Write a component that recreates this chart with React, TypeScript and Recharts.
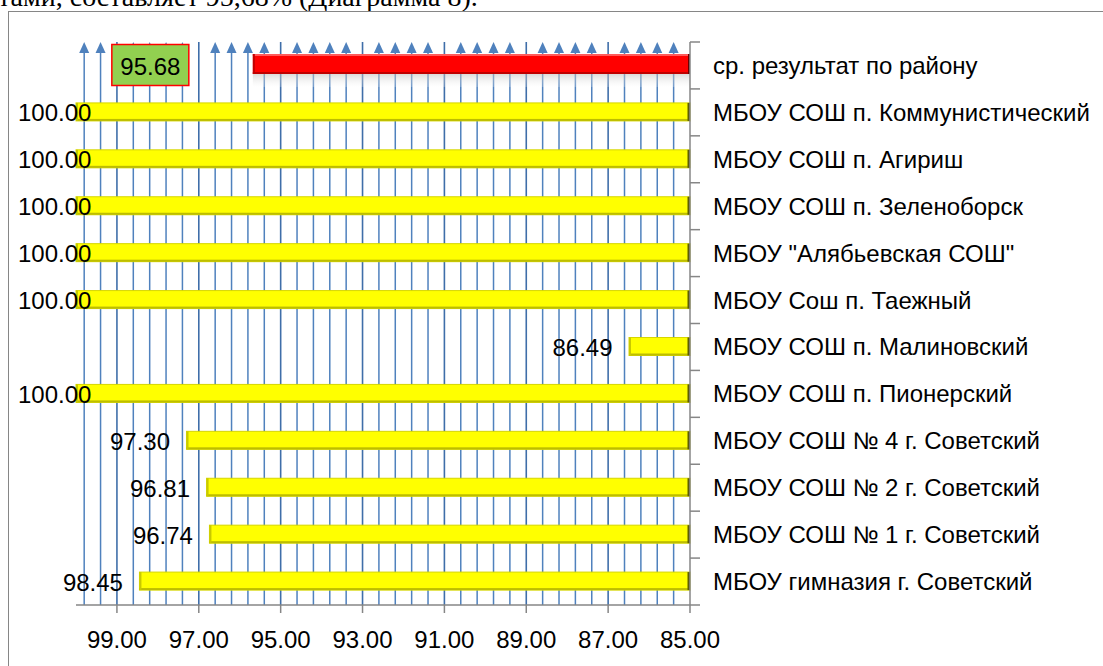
import React from 'react';
import { BarChart, Bar, XAxis, YAxis, CartesianGrid } from 'recharts';

const categories = [
  'ср. результат по району',
  'МБОУ СОШ п. Коммунистический',
  'МБОУ СОШ п. Агириш',
  'МБОУ СОШ п. Зеленоборск',
  'МБОУ "Алябьевская СОШ"',
  'МБОУ Сош п. Таежный',
  'МБОУ СОШ п. Малиновский',
  'МБОУ СОШ п. Пионерский',
  'МБОУ СОШ № 4 г. Советский',
  'МБОУ СОШ № 2 г. Советский',
  'МБОУ СОШ № 1 г. Советский',
  'МБОУ гимназия г. Советский',
];
const values = [95.68, 100, 100, 100, 100, 100, 86.49, 100, 97.3, 96.81, 96.74, 98.45];
const xTicks = [85, 87, 89, 91, 93, 95, 97, 99];
const gridValues = [
  85.4, 85.8, 86.2, 86.6, 87, 87.4, 87.8, 88.2, 88.6, 89, 89.4, 89.8, 90.2, 90.6, 91,
  91.4, 91.8, 92.2, 92.6, 93, 93.4, 93.8, 94.2, 94.6, 95, 95.4, 95.8, 96.2, 96.6, 97,
  97.4, 97.8, 98.2, 98.6, 99, 99.4, 99.8,
];
const majorValues = [87, 89, 91, 93, 95, 97, 99];

const data = categories.map((name, i) => ({ name, value: values[i] }));

const FONT = '"Liberation Sans", Arial, sans-serif';
const GRID_BLUE = '#4F81BD';
const AXIS_GRAY = '#868686';

// recharts 3 may hand over either a d3 scale function or a wrapper with .map()
const toPixel = (scale: any, v: number) => {
  if (typeof scale === 'function') return scale(v);
  if (scale && typeof scale.map === 'function') return scale.map(v);
  if (scale && typeof scale.apply === 'function') return scale.apply(v);
  return NaN;
};

const GridLine = (props: any) => {
  const { x1, y1, y2, index } = props;
  const v = gridValues[index];
  const major = majorValues.includes(v);
  const top = Math.min(y1, y2);
  const bottom = Math.max(y1, y2);
  if (major) {
    return (
      <line key={`g-${index}`} x1={x1} x2={x1} y1={top} y2={bottom} stroke="#3F6EA9" strokeWidth={1.6} />
    );
  }
  return (
    <g key={`g-${index}`}>
      <line x1={x1} x2={x1} y1={top + 8} y2={bottom} stroke={GRID_BLUE} strokeWidth={1.5} />
      <polygon points={`${x1},${top} ${x1 - 5},${top + 11} ${x1 + 5},${top + 11}`} fill={GRID_BLUE} />
    </g>
  );
};

const BarShape = (props: any) => {
  const { x, y, width, height, index, payload } = props;
  const left = Math.min(x, x + width);
  const w = Math.abs(width);
  const cy = y + height / 2;
  if (index === 0) {
    const h = 20;
    const top = cy - h / 2 - 1;
    const boxW = 77;
    const boxH = 41;
    const boxRight = left - 64;
    return (
      <g>
        <rect x={left} y={top + h} width={w} height={13} fill="url(#redShadow)" />
        <rect x={left} y={top} width={w} height={h} fill="#FF0000" />
        <rect x={left} y={top} width={w} height={2} fill="#FF5A5A" />
        <rect x={left} y={top + h - 2} width={w} height={2} fill="#C00000" />
        <rect x={left} y={top} width={2} height={h} fill="#C00000" />
        <rect x={left + w - 2} y={top} width={2} height={h} fill="#6B0000" />
        <rect
          x={boxRight - boxW}
          y={cy - boxH / 2}
          width={boxW}
          height={boxH}
          fill="#92D050"
          stroke="#FF0000"
          strokeWidth={1.5}
        />
        <text
          x={boxRight - boxW / 2}
          y={cy + 1}
          textAnchor="middle"
          dominantBaseline="central"
          fontFamily={FONT}
          fontSize={24}
          fill="#000"
        >
          {payload.value.toFixed(2)}
        </text>
      </g>
    );
  }
  const h = 18;
  const top = cy - h / 2;
  const label = payload.value.toFixed(2);
  const textW = 73;
  let tx = left - 16.5;
  let anchor: 'end' | 'start' = 'end';
  if (tx - textW < 14) {
    tx = 18;
    anchor = 'start';
  }
  return (
    <g>
      <rect x={left} y={top} width={w} height={h} fill="#FFFF00" stroke="#D6D600" strokeWidth={1} />
      <rect x={left} y={top + h - 2} width={w} height={2} fill="#BDBD00" />
      <rect x={left} y={top} width={2} height={h} fill="#C9C900" />
      <rect x={left + w - 2.5} y={top} width={2.5} height={h} fill="#5E5E00" />
      <text
        x={tx}
        y={cy + 1}
        textAnchor={anchor}
        dominantBaseline="central"
        fontFamily={FONT}
        fontSize={24}
        fill="#000"
      >
        {label}
      </text>
    </g>
  );
};

const CategoryTick = (props: any) => {
  const { x, y, payload, index } = props;
  const half = payload && payload.offset ? payload.offset : 23.45;
  return (
    <g>
      <line x1={x} x2={x + 10} y1={y - half} y2={y - half} stroke={AXIS_GRAY} strokeWidth={1.5} />
      {index === categories.length - 1 && (
        <line x1={x} x2={x + 10} y1={y + half} y2={y + half} stroke={AXIS_GRAY} strokeWidth={1.5} />
      )}
      <text x={x + 23} y={y} dominantBaseline="central" fontFamily={FONT} fontSize={24} fill="#000">
        {payload.value}
      </text>
    </g>
  );
};

export default function App() {
  return (
    <div style={{ position: 'absolute', left: 0, top: 0, width: 1103, height: 666, overflow: 'hidden', background: '#fff' }}>
      <div
        style={{
          position: 'absolute',
          left: -2,
          top: -17,
          fontFamily: '"Liberation Serif", "Times New Roman", serif',
          fontSize: 28,
          lineHeight: '28px',
          whiteSpace: 'nowrap',
          color: '#000',
        }}
      >
        тами, составляет 95,68% (Диаграмма 8).
      </div>
      <div
        style={{
          position: 'absolute',
          left: 8,
          top: 11,
          width: 1200,
          height: 800,
          borderLeft: `1.5px solid ${AXIS_GRAY}`,
          borderTop: `1.5px solid ${AXIS_GRAY}`,
        }}
      />
      <div style={{ position: 'absolute', left: 0, top: 0 }}>
        <BarChart
          width={1103}
          height={666}
          data={data}
          layout="vertical"
          margin={{ top: 42, right: 13, bottom: 11, left: 76 }}
          barSize={18}
        >
          <defs>
            <linearGradient id="redShadow" x1="0" y1="0" x2="0" y2="1">
              <stop offset="0%" stopColor="#BFBFBF" stopOpacity={0.55} />
              <stop offset="100%" stopColor="#FFFFFF" stopOpacity={0.2} />
            </linearGradient>
          </defs>
          <CartesianGrid
            horizontal={false}
            vertical={GridLine}
            verticalCoordinatesGenerator={({ xAxis }: any) =>
              xAxis ? gridValues.map((v) => toPixel(xAxis.scale, v)) : []
            }
          />
          <XAxis
            type="number"
            domain={[85, 100]}
            reversed
            ticks={xTicks}
            interval={0}
            height={50}
            tickSize={8}
            tickMargin={18}
            tickFormatter={(v: number) => v.toFixed(2)}
            tick={{ fill: '#000', fontSize: 24, fontFamily: FONT }}
            axisLine={{ stroke: AXIS_GRAY, strokeWidth: 1.5 }}
            tickLine={{ stroke: AXIS_GRAY, strokeWidth: 1.5 }}
          />
          <YAxis
            type="category"
            dataKey="name"
            orientation="right"
            width={400}
            tickSize={0}
            tickMargin={0}
            interval={0}
            tickLine={false}
            axisLine={{ stroke: AXIS_GRAY, strokeWidth: 1.5 }}
            tick={<CategoryTick />}
          />
          <Bar dataKey="value" shape={<BarShape />} isAnimationActive={false} />
        </BarChart>
      </div>
    </div>
  );
}
